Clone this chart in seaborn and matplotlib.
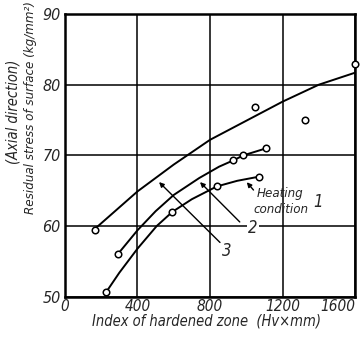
import matplotlib
matplotlib.use("Agg")
import matplotlib.pyplot as plt
import seaborn as sns
import pandas as pd

# fitted curves
curve_top_x = [165, 400, 600, 800, 1000, 1200, 1400, 1600]
curve_top_y = [59.6, 64.9, 68.7, 72.2, 74.9, 77.6, 80.0, 81.7]
curve_mid_x = [294, 400, 500, 600, 741, 850, 929, 984, 1110]
curve_mid_y = [56.1, 59.4, 62.1, 64.4, 66.8, 68.4, 69.3, 70.0, 71.0]
curve_low_x = [226, 300, 400, 506, 592, 700, 837, 950, 1073]
curve_low_y = [50.6, 53.4, 56.8, 60.0, 62.0, 63.8, 65.6, 66.4, 67.0]

# measured points
pts_top_x = [165, 1048, 1324, 1600]
pts_top_y = [59.4, 76.9, 75.0, 83.0]
pts_mid_x = [294, 929, 984, 1110]
pts_mid_y = [56.1, 69.3, 70.0, 71.0]
pts_low_x = [226, 592, 837, 1073]
pts_low_y = [50.6, 62.0, 65.6, 67.0]

x_ticks = [0, 400, 800, 1200, 1600]
y_ticks = [50, 60, 70, 80, 90]

sns.set_style("white")
FAM = ['DejaVu Sans']
plt.rcParams['font.family'] = FAM

fig = plt.figure(figsize=(3.63, 3.43), dpi=100)
ax = fig.add_axes([0.179, 0.135, 0.799, 0.824])

ax.set_xlim(0, 1600)
ax.set_ylim(50, 90)
ax.set_xticks(x_ticks)
ax.set_yticks(y_ticks)
ax.grid(True, color='black', linewidth=1.1)
ax.set_axisbelow(True)
for s in ax.spines.values():
    s.set_color('black')
    s.set_linewidth(1.8)

for cx, cy in [(curve_top_x, curve_top_y), (curve_mid_x, curve_mid_y), (curve_low_x, curve_low_y)]:
    df = pd.DataFrame({'x': cx, 'y': cy})
    sns.lineplot(data=df, x='x', y='y', ax=ax, color='black', linewidth=1.4,
                 estimator=None, sort=False)

for px, py in [(pts_top_x, pts_top_y), (pts_mid_x, pts_mid_y), (pts_low_x, pts_low_y)]:
    df = pd.DataFrame({'x': px, 'y': py})
    sns.scatterplot(data=df, x='x', y='y', ax=ax, marker='o', s=22,
                    facecolor='white', edgecolor='black', linewidth=1.1,
                    zorder=5, clip_on=False)

fs = dict(family=FAM, style='italic', stretch='condensed')
ax.set_xticklabels([str(t) for t in x_ticks], fontsize=11, **fs)
ax.set_yticklabels([str(t) for t in y_ticks], fontsize=11.5, **fs)
ax.get_xticklabels()[-1].set_horizontalalignment('right')
ax.tick_params(axis='x', length=0, pad=2)
ax.tick_params(axis='y', length=0, pad=3)
ax.set_xlabel('')
ax.set_ylabel('')

arrow = dict(arrowstyle='-|>', color='black', lw=1.0, mutation_scale=7)
ax.annotate('', xy=(993, 66.5), xytext=(1050, 64.8), arrowprops=arrow)
ax.text(1055, 64.6, 'Heating', fontsize=9.5, va='center', ha='left', **fs)
ax.text(1042, 62.4, 'condition', fontsize=9.5, va='center', ha='left', **fs)
ax.text(1395, 63.4, '1', fontsize=12, va='center', ha='center', **fs)

ax.annotate('', xy=(734, 66.5), xytext=(975, 60.3), arrowprops=arrow)
ax.text(1037, 59.7, '2', fontsize=12, va='center', ha='center',
        bbox=dict(facecolor='white', edgecolor='none', pad=1), **fs)
ax.annotate('', xy=(508, 66.5), xytext=(866, 57.4), arrowprops=arrow)
ax.text(894, 56.4, '3', fontsize=12, va='center', ha='center', **fs)

fig.text(0.57, 0.064, 'Index of hardened zone  (Hv×mm)', fontsize=10.5,
         ha='center', va='center', **fs)
fig.text(0.035, 0.675, '(Axial direction)', fontsize=10.5, rotation=90,
         ha='center', va='center', **fs)
fig.text(0.085, 0.685, 'Residual stress of surface (kg/mm²)', fontsize=9.5,
         rotation=90, ha='center', va='center', **fs)

fig.savefig('out.png', dpi=100)
